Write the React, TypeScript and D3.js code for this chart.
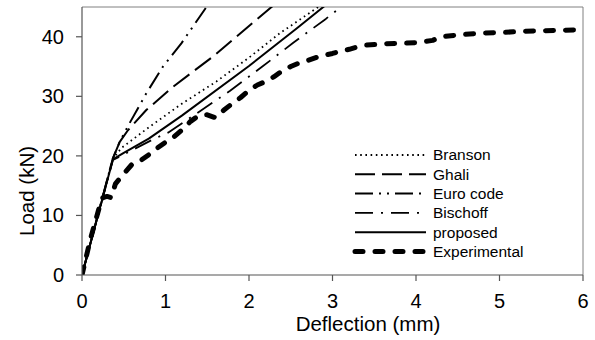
import * as d3 from 'd3';

const xTicks = [0, 1, 2, 3, 4, 5, 6];
const yTicks = [0, 10, 20, 30, 40];

const branson: [number, number][] = [
  [0, 0], [0.37, 19.5], [0.47, 21.3], [0.81, 24.9], [1.2, 28.8], [1.61, 32.5],
  [2.0, 36.5], [2.37, 40.6], [2.83, 45], [3.0, 46.7],
];
const ghali: [number, number][] = [
  [0, 0], [0.37, 19.6], [0.45, 22.3], [0.55, 24.3], [0.77, 27.7], [1.09, 31.6],
  [1.57, 36.7], [2.27, 45], [2.5, 47.7],
];
const euro: [number, number][] = [
  [0, 0], [0.37, 19.6], [0.45, 22.3], [0.55, 25.0], [0.77, 30.5], [0.97, 35.0],
  [1.19, 38.9], [1.5, 45.2], [1.6, 47],
];
const bischoff: [number, number][] = [
  [0, 0], [0.37, 19.3], [0.55, 20.6], [0.87, 22.9], [1.03, 23.9], [1.38, 27.2],
  [1.77, 30.9], [2.16, 35.0], [2.53, 39.0], [2.92, 43.0], [3.1, 45], [3.3, 47],
];
const proposed: [number, number][] = [
  [0, 0], [0.37, 19.4], [0.5, 20.5], [0.8, 22.9], [1.2, 26.8], [2.0, 35.1],
  [2.57, 41.4], [2.89, 45], [3.1, 47.3],
];
const experimental: [number, number][] = [
  [0, 0], [0.05, 3], [0.1, 6], [0.15, 8.5], [0.2, 11], [0.25, 13], [0.3, 13.2],
  [0.35, 13], [0.4, 15.3], [0.5, 17], [0.6, 18.6], [0.7, 19.2], [0.8, 20.2],
  [0.9, 21.3], [1.0, 22.3], [1.1, 23.2], [1.2, 24.4], [1.3, 25.8], [1.4, 26.8],
  [1.5, 26.9], [1.6, 26.4], [1.7, 27.7], [1.8, 28.8], [1.9, 29.8], [2.0, 31],
  [2.1, 31.9], [2.2, 32.5], [2.3, 33.3], [2.4, 34.3], [2.5, 35], [2.6, 35.6],
  [2.7, 36], [2.8, 36.5], [2.9, 36.9], [3.0, 37.2], [3.1, 37.6], [3.2, 37.9],
  [3.3, 38.3], [3.4, 38.6], [3.6, 38.8], [3.8, 38.9], [4.0, 39.0], [4.2, 39.4],
  [4.3, 40], [4.5, 40.3], [4.75, 40.6], [5.0, 40.7], [5.25, 40.9], [5.5, 41.0],
  [5.75, 41.1], [6.0, 41.2],
];

const seriesNames = ['Branson', 'Ghali', 'Euro code', 'Bischoff', 'proposed', 'Experimental'];
const seriesData = [branson, ghali, euro, bischoff, proposed, experimental];

// line styles per series
const styles = [
  { width: 1.8, dash: '1.6,3.6', cap: 'butt' },
  { width: 2, dash: '20,7', cap: 'butt' },
  { width: 2, dash: '18,6,2,6,2,6', cap: 'butt' },
  { width: 1.8, dash: '18,8,2,8', cap: 'butt' },
  { width: 2, dash: 'none', cap: 'butt' },
  { width: 5, dash: '8,12', cap: 'round' },
];

const W = 595;
const H = 340;
const left = 82;
const right = 583;
const top = 7;
const bottom = 275;
const font = 'Liberation Sans, Arial, sans-serif';

export default function App() {
  const x = d3.scaleLinear().domain([0, 6]).range([left, right]);
  const y = d3.scaleLinear().domain([0, 45]).range([bottom, top]);
  const line = d3.line<[number, number]>().x(d => x(d[0])).y(d => y(d[1]));

  const legendX1 = 355;
  const legendX2 = 426;
  const legendY0 = 155;
  const legendStep = 19.3;

  return (
    <svg width={W} height={H} style={{ position: 'absolute', left: 0, top: 0, background: '#fff' }}>
      <defs>
        <clipPath id="plot">
          <rect x={left} y={top} width={right - left} height={bottom - top} />
        </clipPath>
      </defs>

      {/* frame */}
      <line x1={left} y1={top} x2={right} y2={top} stroke="#808080" strokeWidth={1} />
      <line x1={right} y1={top} x2={right} y2={bottom} stroke="#808080" strokeWidth={1} />

      <g clipPath="url(#plot)">
        {seriesData.map((s, i) => (
          <path
            key={seriesNames[i]}
            d={line(s) || ''}
            fill="none"
            stroke="#000"
            strokeWidth={styles[i].width}
            strokeDasharray={styles[i].dash}
            strokeLinecap={styles[i].cap as any}
            strokeLinejoin="round"
          />
        ))}
      </g>

      {/* axes */}
      <line x1={left} y1={top} x2={left} y2={bottom} stroke="#555" strokeWidth={1.2} />
      <line x1={left} y1={bottom} x2={right} y2={bottom} stroke="#555" strokeWidth={1.2} />
      {yTicks.map(t => (
        <g key={'y' + t}>
          <line x1={left - 6} x2={left} y1={y(t)} y2={y(t)} stroke="#555" strokeWidth={1.2} />
          <text x={left - 18} y={y(t)} dy="0.35em" textAnchor="end" fontFamily={font} fontSize={20}>
            {t}
          </text>
        </g>
      ))}
      {xTicks.map(t => (
        <g key={'x' + t}>
          <line x1={x(t)} x2={x(t)} y1={bottom} y2={bottom + 6} stroke="#555" strokeWidth={1.2} />
          <text x={x(t)} y={308} textAnchor="middle" fontFamily={font} fontSize={20}>
            {t}
          </text>
        </g>
      ))}

      <text x={368} y={331} textAnchor="middle" fontFamily={font} fontSize={20.5}>
        Deflection (mm)
      </text>
      <text
        transform="translate(34,191) rotate(-90)"
        textAnchor="middle"
        fontFamily={font}
        fontSize={20.5}
      >
        Load (kN)
      </text>

      {/* legend */}
      {seriesNames.map((name, i) => {
        const ly = legendY0 + i * legendStep;
        return (
          <g key={'lg' + name}>
            <line
              x1={legendX1}
              x2={legendX2}
              y1={ly}
              y2={ly}
              stroke="#000"
              strokeWidth={styles[i].width}
              strokeDasharray={styles[i].dash}
              strokeLinecap={styles[i].cap as any}
            />
            <text x={433} y={ly} dy="0.35em" fontFamily={font} fontSize={15.5}>
              {name}
            </text>
          </g>
        );
      })}
    </svg>
  );
}
